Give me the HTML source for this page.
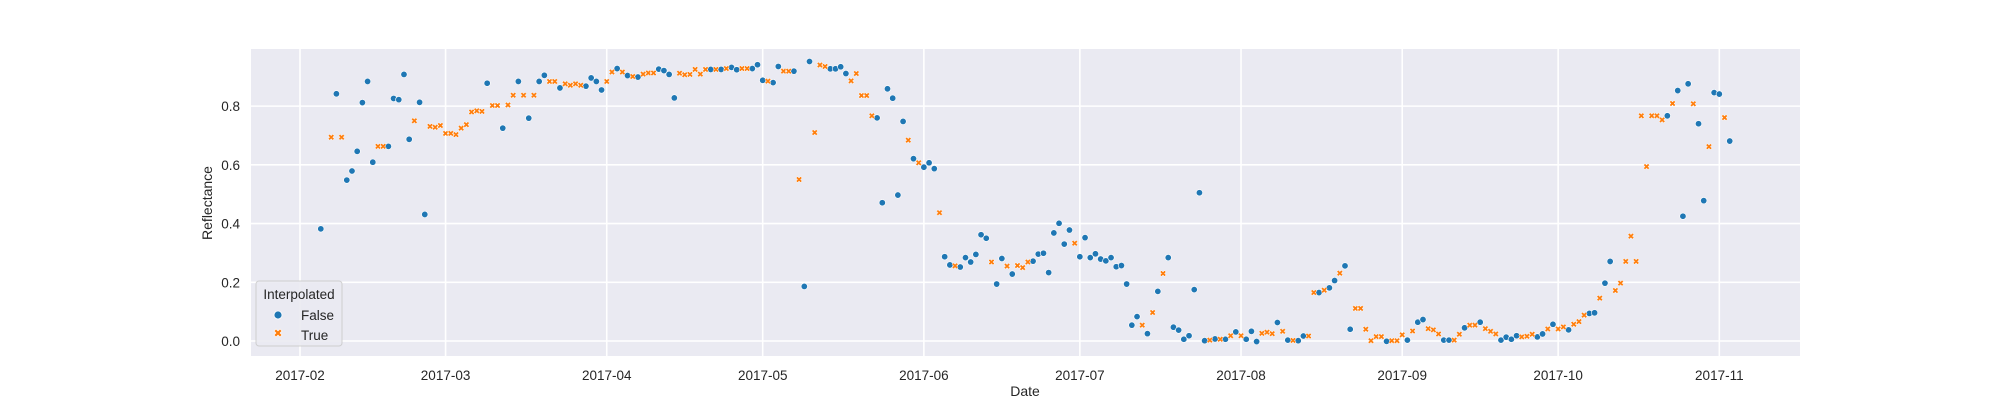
<!DOCTYPE html>
<html><head><meta charset="utf-8"><style>
html,body{margin:0;padding:0;background:#fff;}
svg{display:block;font-family:"Liberation Sans","DejaVu Sans",sans-serif;}
</style></head><body>
<svg id="chart" width="2000" height="400" viewBox="0 0 2000 400">
  <rect x="251" y="49" width="1549" height="307" fill="#eaeaf2"/>
  <g id="grid"></g>
  <g id="xticks"></g>
  <g id="yticks"></g>
  <g id="marks"></g>
  <text x="1025" y="396" font-size="14" fill="#262626" text-anchor="middle">Date</text>
  <text x="0" y="0" font-size="14" fill="#262626" text-anchor="middle" transform="translate(212,203) rotate(-90)">Reflectance</text>
  <g>
    <rect x="256" y="281" width="86" height="65" rx="3" fill="#eaeaf2" stroke="#cccccc" stroke-width="1" opacity="0.9"/>
    <text x="299" y="299" font-size="13.5" fill="#262626" text-anchor="middle">Interpolated</text>
    <g>
      <circle cx="278" cy="315" r="4" fill="#1f77b4" stroke="#fff" stroke-width="0.8"/>
      <text x="301" y="320" font-size="13.5" fill="#262626">False</text>
    </g>
    <g>
      <path d="M274,331 L276,329 L278,331 L280,329 L282,331 L280,333 L282,335 L280,337 L278,335 L276,337 L274,335 L276,333 Z" fill="#ff7f0e" stroke="#fff" stroke-width="0.6"/>
      <text x="301" y="340" font-size="13.5" fill="#262626">True</text>
    </g>
  </g>
</svg>
<script>
const falseDays=[4,7,9,10,11,12,13,14,17,18,19,20,21,23,24,36,39,42,44,46,47,50,55,56,57,58,61,63,65,69,70,71,72,79,81,83,84,87,88,89,91,92,95,97,98,102,103,104,105,111,112,113,114,115,116,118,120,121,122,124,125,127,128,129,130,131,132,134,135,137,141,142,143,144,145,146,147,148,150,151,152,153,154,155,156,157,158,159,160,161,163,165,167,168,169,170,171,172,173,174,176,178,180,182,183,184,188,190,192,193,196,198,199,201,202,209,213,215,216,220,221,224,227,231,232,233,234,238,239,241,244,248,249,251,252,263,265,266,267,269,270,272,273,275];
const falseVals=[.382,.842,.548,.579,.646,.812,.884,.609,.663,.826,.822,.908,.687,.813,.431,.878,.725,.884,.759,.884,.905,.862,.868,.896,.884,.855,.928,.904,.899,.926,.921,.908,.828,.925,.925,.932,.924,.928,.941,.888,.880,.935,.919,.186,.952,.927,.927,.934,.911,.760,.471,.859,.827,.497,.748,.621,.592,.607,.587,.287,.259,.252,.284,.269,.295,.362,.350,.194,.281,.228,.272,.296,.299,.233,.368,.401,.330,.378,.287,.352,.284,.297,.279,.273,.284,.253,.257,.194,.054,.083,.025,.169,.284,.047,.037,.006,.018,.175,.505,.001,.007,.006,.031,.006,.033,-.002,.063,.003,.001,.017,.165,.181,.206,.256,.040,-.001,.003,.064,.073,.003,.003,.045,.064,.003,.013,.006,.018,.014,.024,.057,.038,.094,.096,.197,.271,.767,.853,.425,.876,.740,.478,.846,.841,.681];
const trueDays=[6,8,15,16,22,25,26,27,28,29,30,31,32,33,34,35,37,38,40,41,43,45,48,49,51,52,53,54,59,60,62,64,66,67,68,73,74,75,76,77,78,80,82,85,86,90,93,94,96,99,100,101,106,107,108,109,110,117,119,123,126,133,136,138,139,140,149,162,164,166,175,177,179,181,185,186,187,189,191,194,195,197,200,203,204,205,206,207,208,210,211,212,214,217,218,219,222,223,225,226,228,229,230,235,236,237,240,242,243,245,246,247,250,253,254,255,256,257,258,259,260,261,262,264,268,271,274];
const trueVals=[.694,.694,.663,.663,.750,.731,.728,.734,.707,.707,.703,.725,.737,.780,.784,.782,.802,.802,.804,.837,.837,.837,.884,.884,.876,.871,.876,.871,.884,.916,.916,.901,.909,.913,.913,.912,.907,.908,.925,.909,.925,.925,.928,.928,.928,.885,.919,.919,.550,.710,.940,.935,.886,.911,.836,.836,.767,.684,.607,.437,.256,.269,.255,.257,.250,.269,.333,.054,.097,.230,.003,.006,.018,.018,.026,.030,.025,.033,.002,.017,.165,.173,.231,.111,.111,.040,.001,.015,.015,.001,.001,.021,.034,.042,.038,.024,.003,.023,.054,.054,.042,.033,.024,.014,.016,.023,.041,.041,.048,.057,.066,.088,.146,.172,.197,.271,.357,.271,.767,.594,.767,.767,.753,.809,.808,.662,.761];
const xTickLabels=["2017-02","2017-03","2017-04","2017-05","2017-06","2017-07","2017-08","2017-09","2017-10","2017-11"];
const yTickVals=[0.0,0.2,0.4,0.6,0.8];

const NS="http://www.w3.org/2000/svg";
const base=Date.UTC(2017,1,1);
function xScale(day){return 300+day*5.199;}
function yScale(v){return 341-v*293.6;}
function mk(tag,attrs,parent){const e=document.createElementNS(NS,tag);for(const k in attrs)e.setAttribute(k,attrs[k]);parent.appendChild(e);return e;}
const grid=document.getElementById('grid'),xt=document.getElementById('xticks'),yt=document.getElementById('yticks'),marks=document.getElementById('marks');
xTickLabels.forEach(function(lab){
  const p=lab.split('-');const day=(Date.UTC(+p[0],+p[1]-1,1)-base)/86400000;const x=xScale(day);
  const l=mk('line',{x1:x,x2:x,y1:49,y2:356,stroke:'#fff','stroke-width':1.6},grid);
  
  
  const t=mk('text',{x:x,y:380,'font-size':13.5,fill:'#262626','text-anchor':'middle'},xt);
  t.textContent=lab;
  
  
});
yTickVals.forEach(function(v){
  const y=yScale(v);
  const l=mk('line',{x1:251,x2:1800,y1:y,y2:y,stroke:'#fff','stroke-width':1.6},grid);
  
  
  const t=mk('text',{x:240,y:y+5,'font-size':13.5,fill:'#262626','text-anchor':'end'},yt);
  t.textContent=v.toFixed(1);
  
  
});
falseDays.forEach(function(d,i){
  const c=mk('circle',{cx:xScale(d),cy:yScale(falseVals[i]),r:3.2,fill:'#1f77b4',stroke:'#fff','stroke-width':0.6},marks);
  
  
});
trueDays.forEach(function(d,i){
  const x=xScale(d),y=yScale(trueVals[i]),s=1.5;
  const pts=[[-3,-1.5],[-1.5,-3],[0,-1.5],[1.5,-3],[3,-1.5],[1.5,0],[3,1.5],[1.5,3],[0,1.5],[-1.5,3],[-3,1.5],[-1.5,0]];
  const dstr='M'+pts.map(function(p){return (x+p[0]*s/1.5).toFixed(2)+','+(y+p[1]*s/1.5).toFixed(2);}).join(' L')+' Z';
  const m=mk('path',{d:dstr,fill:'#ff7f0e',stroke:'#fff','stroke-width':0.5},marks);
  
  
});
</script>
</body></html>
